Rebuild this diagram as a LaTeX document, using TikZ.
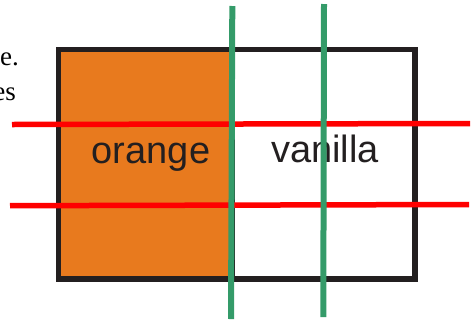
\documentclass[tikz,border=0pt]{standalone}
\usepackage{fontspec}
\setmainfont{Liberation Serif}
\newfontfamily\labelfont{Liberation Sans}
\definecolor{fillorange}{RGB}{232,122,30}
\definecolor{cutgreen}{RGB}{52,155,105}
\definecolor{cutred}{RGB}{255,0,0}
\definecolor{borderblack}{RGB}{35,31,32}
\begin{document}
\begin{tikzpicture}[x=1pt,y=-1pt,
  flavour/.style={font=\labelfont\fontsize{38}{40}\selectfont, text=borderblack, inner sep=0pt, anchor=base},
  prose/.style={font=\fontsize{27}{30}\selectfont, inner sep=0pt, anchor=base east},
  redcut/.style={draw=cutred, line width=5.5pt},
  greencut/.style={draw=cutgreen, line width=6pt}]
\useasboundingbox (0,0) rectangle (473,322);
\clip (0,0) rectangle (473,322);
% cropped paragraph text
\node[prose] (t1) at (19,65) {e.};
\node[prose] (t2) at (16,100) {es};
% orange half
\fill[fillorange] (59,49.5) rectangle (234,279);
\draw[borderblack, line width=0.8pt] (234.5,49.5) -- (234.5,279);
% outer box
\draw[borderblack, line width=5.5pt] (58.7,49.5) rectangle (415,279);
% labels
\node[flavour] (orange) at (151,163) {orange};
\node[flavour] (vanilla) at (325,162) {vanilla};
% red horizontal cuts
\draw[redcut] (12,124.5) -- (470,123.5);
\draw[redcut] (10,205.7) -- (469,204.5);
% green vertical cuts
\draw[greencut] (232.3,6) -- (231,319);
\draw[greencut] (324,4) -- (323.3,317);
\end{tikzpicture}
\end{document}
